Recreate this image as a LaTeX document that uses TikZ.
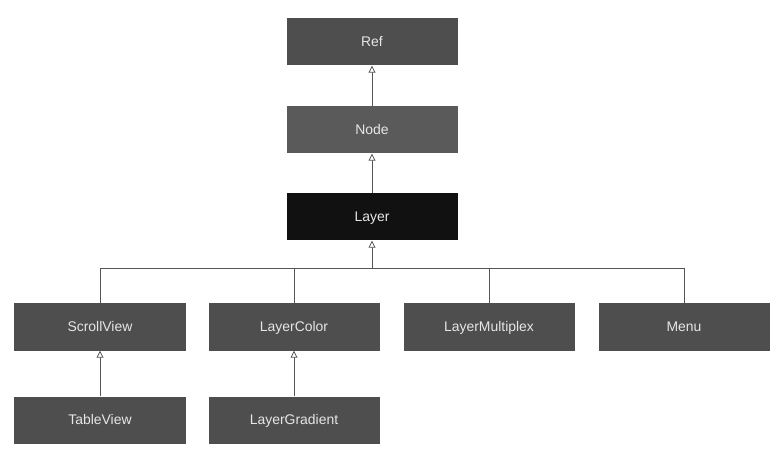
\documentclass[tikz,border=0pt]{standalone}
\usepackage{fontspec}
\setmainfont{Liberation Sans}
\usetikzlibrary{arrows.meta}
\definecolor{boxgray}{HTML}{4E4E4E}
\definecolor{boxmid}{HTML}{5A5A5A}
\definecolor{boxblack}{HTML}{111111}
\definecolor{txt}{HTML}{E6E6E6}
\definecolor{linegray}{HTML}{555555}
\begin{document}
\begin{tikzpicture}[x=1bp,y=-1bp,
  cls/.style={draw=none, fill=boxgray, minimum width=171bp, minimum height=47bp, inner sep=0pt, text height=10bp, text depth=0.5bp, text=txt, font=\fontsize{14}{16}\selectfont},
  inh/.style={draw=linegray, line width=0.8bp, -{Triangle[open, width=7bp, length=7bp, fill=white]}},
  lnk/.style={draw=linegray, line width=0.8bp}]
\useasboundingbox (0,0) rectangle (782,456);
\node[cls] (ref) at (372,42) {Ref};
\node[cls, fill=boxmid] (node) at (372,130) {Node};
\node[cls, fill=boxblack] (layer) at (372,217) {Layer};
\node[cls] (scroll) at (100,327) {ScrollView};
\node[cls] (lcolor) at (294,327) {LayerColor};
\node[cls] (lmulti) at (489,327) {LayerMultiplex};
\node[cls] (menu) at (684,327) {Menu};
\node[cls] (table) at (100,420) {TableView};
\node[cls] (lgrad) at (294,420) {LayerGradient};
\coordinate (bus) at (372,268);
\draw[inh] (node) -- (ref);
\draw[inh] (layer) -- (node);
\draw[inh] (bus) -- (layer);
\draw[lnk] (scroll.north) |- (bus);
\draw[lnk] (menu.north) |- (bus);
\draw[lnk] (lcolor.north) -- (lcolor.north |- bus);
\draw[lnk] (lmulti.north) -- (lmulti.north |- bus);
\draw[inh] (table) -- (scroll);
\draw[inh] (lgrad) -- (lcolor);
\end{tikzpicture}
\end{document}
